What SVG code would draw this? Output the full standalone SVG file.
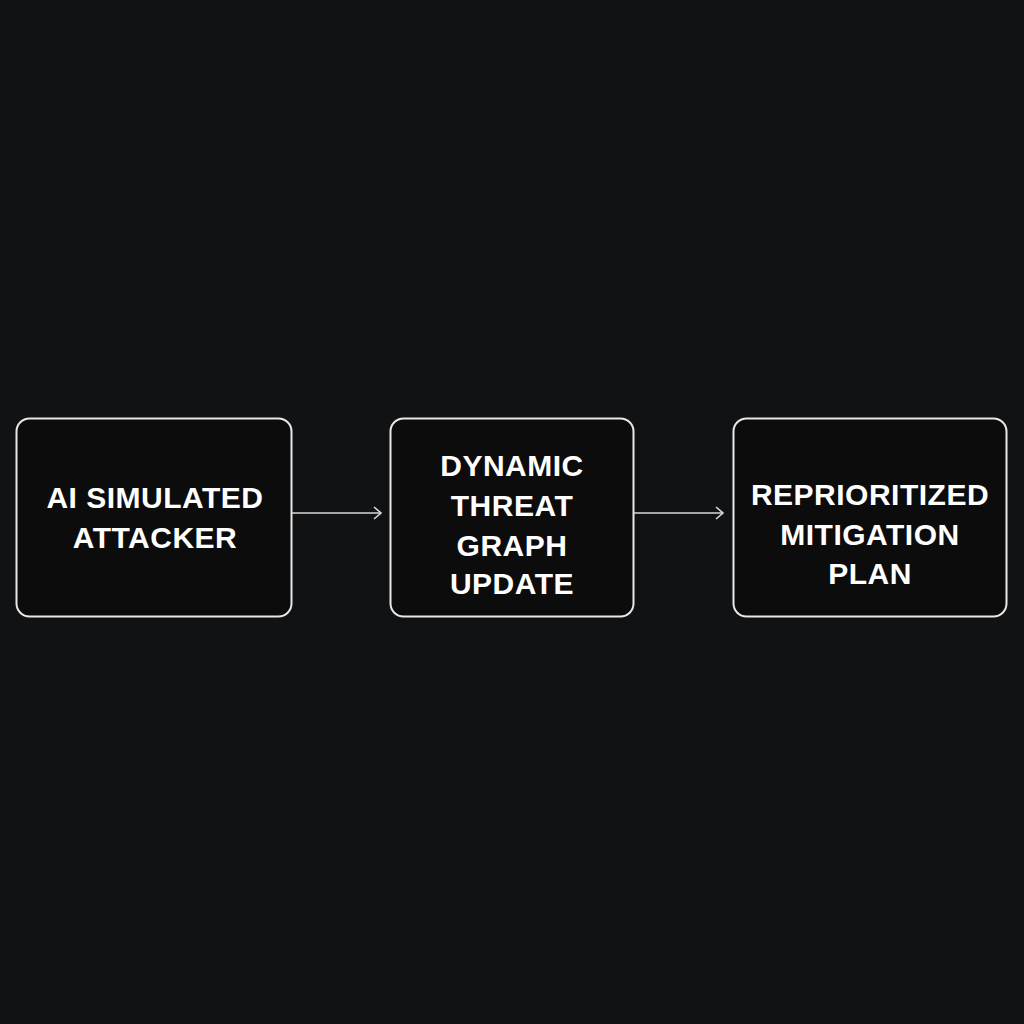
<svg xmlns="http://www.w3.org/2000/svg" width="1024" height="1024" viewBox="0 0 1024 1024">
<defs>
<style>
.box{fill:#0c0c0d;stroke:#e8e8e8;stroke-width:2}
.lbl{fill:#ffffff;font-family:"Liberation Sans",Arial,sans-serif;font-weight:bold;font-size:30px;text-anchor:middle;letter-spacing:0.5px}
.conn{stroke:#d8d8d8;stroke-width:1.6;fill:none}
</style>
<marker id="arrow" markerWidth="14" markerHeight="14" refX="10" refY="7" orient="auto" markerUnits="userSpaceOnUse">
<path d="M3,1 L10,7 L3,13" fill="none" stroke="#d8d8d8" stroke-width="1.6"/>
</marker>
</defs>
<rect width="1024" height="1024" fill="#111214"/>
<g id="node-attacker">
<rect class="box" x="16.5" y="418.5" width="275" height="198" rx="13"/>
<text class="lbl" x="155" y="508">AI SIMULATED</text>
<text class="lbl" x="155" y="548">ATTACKER</text>
</g>
<g id="node-threat-graph">
<rect class="box" x="390.5" y="418.5" width="243" height="198" rx="13"/>
<text class="lbl" x="512" y="476">DYNAMIC</text>
<text class="lbl" x="512" y="516">THREAT</text>
<text class="lbl" x="512" y="556">GRAPH</text>
<text class="lbl" x="512" y="594">UPDATE</text>
</g>
<g id="node-mitigation">
<rect class="box" x="733.5" y="418.5" width="273" height="198" rx="13"/>
<text class="lbl" x="870" y="505">REPRIORITIZED</text>
<text class="lbl" x="870" y="545">MITIGATION</text>
<text class="lbl" x="870" y="584">PLAN</text>
</g>
<g id="connectors">
<line class="conn" x1="292" y1="513" x2="381" y2="513" marker-end="url(#arrow)"/>
<line class="conn" x1="634" y1="513" x2="723" y2="513" marker-end="url(#arrow)"/>
</g>
</svg>
